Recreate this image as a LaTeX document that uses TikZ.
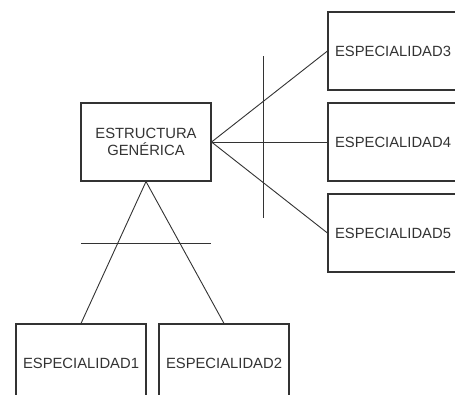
\documentclass[tikz,border=0pt]{standalone}
\usepackage{fontspec}
\setmainfont{Liberation Sans}
\definecolor{ink}{HTML}{333333}
\tikzset{
  box/.style={draw=ink, line width=1.1pt, minimum width=130pt, minimum height=78pt,
    inner sep=0pt, align=center, text=ink, font=\fontsize{14.8}{17.5}\selectfont},
  link/.style={draw=ink, line width=0.9pt},
}
\begin{document}
\begin{tikzpicture}[x=1pt, y=-1pt]
  \useasboundingbox (0,0) rectangle (455,394);
  \clip (0,0) rectangle (455,394);
  \fill[white] (0,0) rectangle (455,394);

  % generic structure and its specialities
  \node[box] (gen) at (146,142) {ESTRUCTURA\\GENÉRICA};
  \node[box] (e3) at (393,51)  {ESPECIALIDAD3};
  \node[box] (e4) at (393,142) {ESPECIALIDAD4};
  \node[box] (e5) at (393,233) {ESPECIALIDAD5};
  \node[box] (e1) at (81,363)  {ESPECIALIDAD1};
  \node[box] (e2) at (224,363) {ESPECIALIDAD2};

  % connectors
  \draw[link] (gen.east) -- (e3.west);
  \draw[link] (gen.east) -- (e4.west);
  \draw[link] (gen.east) -- (e5.west);
  \draw[link] (gen.south) -- (e1.north);
  \draw[link] (gen.south) -- (e2.north);

  % crossing bars
  \coordinate (vtop) at (263,56);
  \coordinate (vbot) at (263,218);
  \coordinate (hl) at (81,243);
  \coordinate (hr) at (211,243);
  \draw[link] (vtop) -- (vbot);
  \draw[link] (hl) -- (hr);
\end{tikzpicture}
\end{document}
